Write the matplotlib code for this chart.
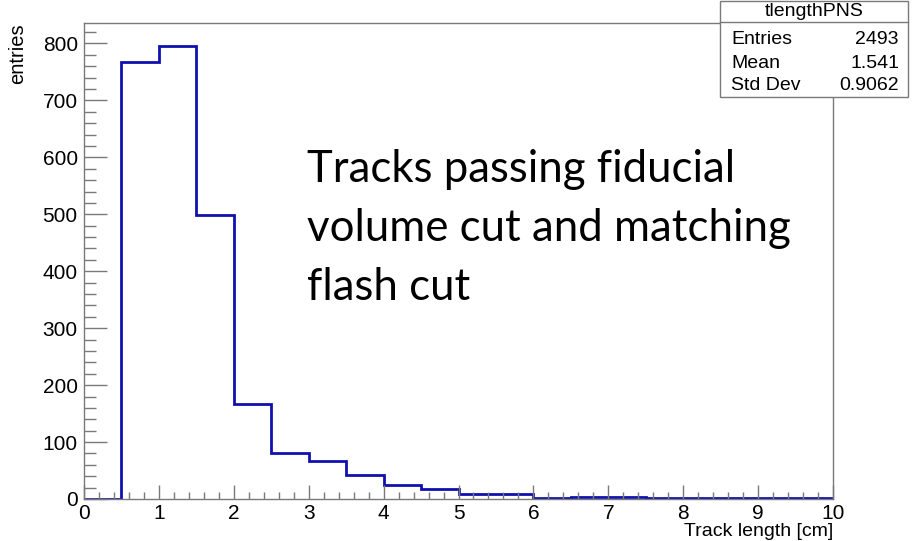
import numpy as np
import matplotlib
matplotlib.use('agg')
import matplotlib.pyplot as plt
from matplotlib.patches import Rectangle
from matplotlib.lines import Line2D

# bin edges (0.5 cm wide) and counts per bin
bin_edges = np.arange(0, 10.01, 0.5)
counts = [0, 767, 796, 498, 167, 81, 67, 42, 25, 17,
          8, 9, 2, 4, 4, 2, 1, 1, 1, 1]

hist_name = 'tlengthPNS'
stat_names = ['Entries', 'Mean', 'Std Dev']
stat_values = ['2493', '1.541', '0.9062']
note = 'Tracks passing fiducial\nvolume cut and matching\nflash cut'

W, H = 914, 541
plt.rcParams['font.family'] = ['Liberation Sans', 'DejaVu Sans']

fig = plt.figure(figsize=(W / 100, H / 100), dpi=100)
fig.patch.set_facecolor('white')

# frame position in pixels
left, right, top, bottom = 84, 833, 23, 499
ax = fig.add_axes([left / W, 1 - bottom / H, (right - left) / W, (bottom - top) / H])

ax.stairs(counts, bin_edges, color='#1010b0', linewidth=2.0, baseline=0)

ax.set_xlim(0, 10)
ax.set_ylim(0, 836)
ax.set_xticks(np.arange(0, 11, 1))
ax.set_xticks(np.arange(0, 10.01, 0.2), minor=True)
ax.set_yticks(np.arange(0, 801, 100))
ax.set_yticks(np.arange(0, 836, 20), minor=True)

frame_col = '#7a7a7a'
for side in ax.spines.values():
    side.set_color(frame_col)
    side.set_linewidth(1.0)

ax.tick_params(axis='both', which='both', direction='in', color=frame_col,
               width=1.0, labelsize=15, pad=4.5)
ax.tick_params(axis='x', which='major', pad=3.5)
ax.tick_params(axis='y', which='major', length=16.5)
ax.tick_params(axis='y', which='minor', length=8.5)
ax.tick_params(axis='x', which='major', length=10)
ax.tick_params(axis='x', which='minor', length=5)

# axis titles, ROOT style: right / top aligned
fig.text(right / W, 1 - 536 / H, 'Track length [cm]', ha='right', va='baseline', fontsize=14)
fig.text(18 / W, 1 - top / H, 'entries', rotation=90, ha='center', va='top', fontsize=14.5)

# text note on the pad (anchored on the baseline of the last line)
fig.text(307 / W, 1 - 300 / H, note, ha='left', va='baseline', fontsize=31.5,
         family=['Lato', 'DejaVu Sans'], linespacing=1.55, color='black')

# statistics box
bx0, bx1, by0, by1, hdr = 720, 908, 1, 97, 22
fig.patches.append(Rectangle((bx0 / W, 1 - by1 / H), (bx1 - bx0) / W, (by1 - by0) / H,
                             transform=fig.transFigure, facecolor='white',
                             edgecolor=frame_col, linewidth=1.0, zorder=5))
fig.lines.append(Line2D([bx0 / W, bx1 / W], [1 - hdr / H, 1 - hdr / H],
                        transform=fig.transFigure, color=frame_col, linewidth=1.0, zorder=6))
fig.text((bx0 + bx1) / 2 / W, 1 - 12 / H, hist_name, ha='center', va='center',
         fontsize=14, zorder=7)
row_y = [39, 63, 86]
for name, val, y in zip(stat_names, stat_values, row_y):
    fig.text(731 / W, 1 - y / H, name, ha='left', va='center', fontsize=14, zorder=7)
    fig.text(899 / W, 1 - y / H, val, ha='right', va='center', fontsize=14, zorder=7)

fig.savefig('out.png', dpi=100)
